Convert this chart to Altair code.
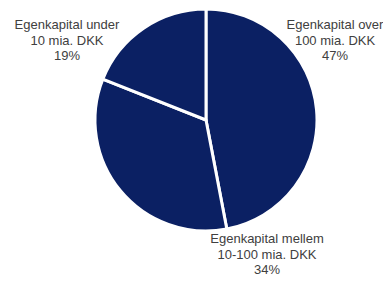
import altair as alt
import pandas as pd

categories = ["Egenkapital over\n100 mia. DKK", "Egenkapital mellem\n10-100 mia. DKK", "Egenkapital under\n10 mia. DKK"]
shares = [47, 34, 19]
order = [0, 1, 2]

df = pd.DataFrame({"cat": categories, "share": shares, "order": order})
df["label"] = df["cat"] + "\n" + df["share"].astype(str) + "%"

# label anchor positions (layout only), in chart coords
label_pos = {0: (327, 11), 1: (259, 225), 2: (59, 11)}

base = alt.Chart(df)

pie = base.mark_arc(radius=111, stroke="white", strokeWidth=3, color="#0b2063").encode(
    theta=alt.Theta("share:Q", stack=True),
    order=alt.Order("order:Q"),
    x=alt.value(198),
    y=alt.value(112),
)

layers = [pie]
for k, (lx, ly) in label_pos.items():
    layers.append(
        base.transform_filter(alt.datum.order == k)
        .mark_text(
            lineBreak="\n",
            lineHeight=15.5,
            fontSize=13,
            font="Liberation Sans",
            color="#404040",
            align="center",
            baseline="top",
        )
        .encode(text="label:N", x=alt.value(lx), y=alt.value(ly))
    )

chart = alt.layer(*layers).properties(
    width=375, height=270, padding=0, autosize=alt.AutoSizeParams(type="none")
).configure_view(stroke=None)

chart.save("out.html", embed_options={"renderer": "svg", "actions": False})
